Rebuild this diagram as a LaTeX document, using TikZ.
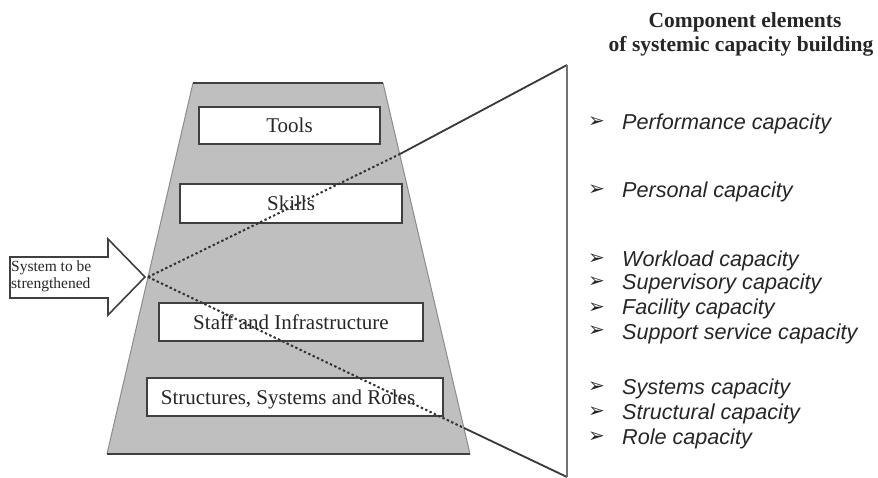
\documentclass[tikz,border=0pt]{standalone}
\usepackage{fontspec}
\setmainfont{Liberation Serif}
\newfontfamily\listfont{Liberation Sans}
\newfontfamily\dejavu{DejaVu Sans}
\begin{document}
\begin{tikzpicture}[x=1pt,y=-1pt,
  box/.style={draw=black!75, line width=1.6pt, fill=white, text=black!85,
    font=\fontsize{21}{24}\selectfont, inner sep=0pt, text depth=0pt},
  item/.style={anchor=base west, font=\listfont\itshape\fontsize{21.6}{24}\selectfont, text=black!85, inner sep=0pt},
  bul/.style={anchor=base west, font=\dejavu\fontsize{20}{22}\selectfont, text=black!85, inner sep=0pt},
  head/.style={anchor=base, font=\bfseries\fontsize{21.5}{24}\selectfont, text=black!85, inner sep=0pt},
  dotline/.style={line width=2pt, black!80, dash pattern=on 2.4pt off 2.4pt},
  solidline/.style={line width=1.8pt, black!78},
]
\useasboundingbox (0,0) rectangle (878,478);
\fill[white] (0,0) rectangle (878,478);

% trapezoid
\coordinate (tl) at (193,83);
\coordinate (tr) at (383,83);
\coordinate (br) at (470,454);
\coordinate (bl) at (107,454);
\fill[black!25] (tl) -- (tr) -- (br) -- (bl) -- cycle;
\draw[black!45, line width=1pt] (tr) -- (br) (bl) -- (tl);
\draw[black!75, line width=2pt] (tl) -- (tr) (bl) -- (br);

% boxes
\node[box, minimum width=181pt, minimum height=37pt] (tools) at (289.5,125.5) {Tools};
\node[box, minimum width=222pt, minimum height=39pt] (skills) at (291,203.5) {Skills};
\node[box, minimum width=264pt, minimum height=38pt] (staff) at (291,322) {Staff and Infrastructure};
\node[box, minimum width=296pt, minimum height=38pt] (struct) at (295,397) {\hspace*{-14pt}Structures, Systems and Roles};

% input arrow
\draw[black!75, line width=1.6pt, fill=white]
  (10,257) -- (108,257) -- (108,239) -- (145,277) -- (108,315) -- (108,298) -- (10,298) -- cycle;
\node[anchor=north west, align=left, inner sep=0pt, text=black!85,
  font=\fontsize{15.5}{17}\selectfont] (sys) at (11,261) {System to be\\strengthened};

% projection lines
\coordinate (tip) at (148,277);
\coordinate (b1) at (400,154);
\coordinate (b2) at (464,428);
\coordinate (vt) at (567,65);
\coordinate (vb) at (567,477);
\draw[dotline] (tip) -- (b1);
\draw[dotline] (tip) -- (b2);
\draw[solidline] (b1) -- (vt);
\draw[solidline] (b2) -- (vb);
\draw[black!55, line width=1.8pt] (vt) -- (vb);

% heading
\node[head] (h1) at (745,28) {Component elements};
\node[head] (h2) at (741,52) {of systemic capacity building};

% list
\foreach \y/\t [count=\i] in {130/Performance capacity, 198/Personal capacity,
  267/Workload capacity, 290/Supervisory capacity, 315/Facility capacity,
  339/Support service capacity, 394/Systems capacity, 419/Structural capacity,
  444/Role capacity}{
  \node[bul] (b\i) at (588,\y-2) {➢};
  \node[item] (it\i) at (622,\y) {\t};
}
\end{tikzpicture}
\end{document}
